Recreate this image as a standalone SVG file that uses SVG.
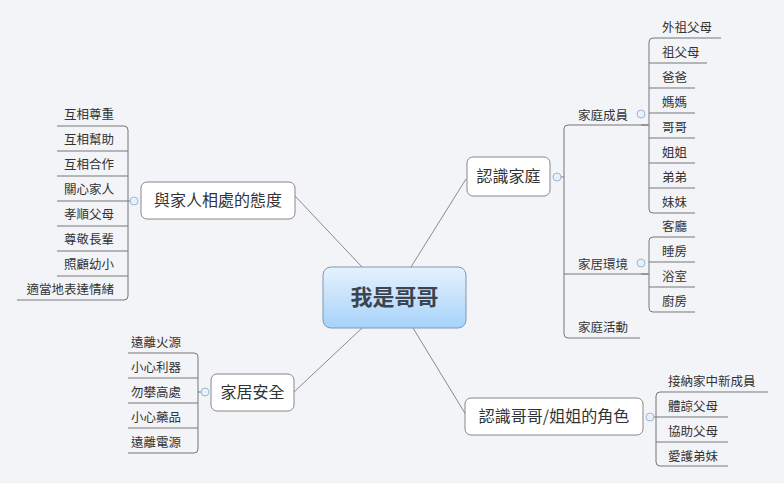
<svg xmlns="http://www.w3.org/2000/svg" width="784" height="483" viewBox="0 0 784 483">
<defs>
<linearGradient id="cg" x1="0" y1="0" x2="0" y2="1"><stop offset="0" stop-color="#e6f2fd"/><stop offset="1" stop-color="#a6d2fa"/></linearGradient>
<style>
text{font-family:"Noto Sans CJK TC","Noto Sans CJK SC",sans-serif;fill:#333}
.l{font-size:12.5px}
.m{font-size:16px}
.c{font-size:22px;font-weight:bold;fill:#3a4550}
.ln{fill:none;stroke:#8a8a8a;stroke-width:1}
.br{fill:none;stroke:#777;stroke-width:1}
.box{fill:#fff;stroke:#888;stroke-width:1}
.dot{fill:#e8f0fa;stroke:#9bb8d8;stroke-width:1}
</style>
</defs>
<rect width="784" height="483" fill="#f3f4f8"/>
<g id="connectors">
<path class="ln" d="M411 267L466 179M362 267L295 196M362 328L294 392M413 328L466 415"/>
<path class="br" d="M557 177H564M564 129Q564 125 568 125H648M564 129V334Q564 338 568 338H640M564 274H648"/>
<path class="br" d="M641 125H649M649 42Q649 38 653 38H721M649 42V209Q649 213 653 213H695M649 63H707M649 88H695M649 113H695M649 138H695M649 163H695M649 188H695"/>
<path class="br" d="M641 274H649M649 241Q649 237 653 237H695M649 241V308Q649 312 653 312H695M649 262H695M649 287H695"/>
<path class="br" d="M134 201H128M128 130Q128 126 124 126H57M128 130V296Q128 300 124 300H17M128 151H57M128 176H57M128 201H57M128 226H57M128 251H57M128 276H57"/>
<path class="br" d="M205 392H198M198 357Q198 353 194 353H128M198 357V449Q198 453 194 453H128M198 378H128M198 403H128M198 428H128"/>
<path class="br" d="M650 417H656M656 396Q656 392 660 392H768M656 396V462Q656 466 660 466H728M656 417H728M656 442H728"/>
</g>
<g id="center"><rect x="323" y="267" width="143" height="61" rx="8" fill="url(#cg)" stroke="#7f98b0"/><text class="c" x="394.5" y="305" text-anchor="middle">我是哥哥</text></g>
<g id="n1"><rect class="box" x="467" y="157" width="83" height="39" rx="6"/><text class="m" x="508.5" y="182" text-anchor="middle">認識家庭</text><circle class="dot" cx="557" cy="177" r="4"/></g>
<g id="n2"><rect class="box" x="141" y="182" width="154" height="37" rx="6"/><text class="m" x="218" y="206" text-anchor="middle">與家人相處的態度</text><circle class="dot" cx="134" cy="201" r="4"/></g>
<g id="n3"><rect class="box" x="211" y="374" width="83" height="37" rx="6"/><text class="m" x="252.5" y="398" text-anchor="middle">家居安全</text><circle class="dot" cx="205" cy="392" r="4"/></g>
<g id="n4"><rect class="box" x="465" y="398" width="178" height="37" rx="6"/><text class="m" x="554" y="422" text-anchor="middle">認識哥哥/姐姐的角色</text><circle class="dot" cx="650" cy="417" r="4"/></g>
<g id="family">
<text class="l" x="578" y="120">家庭成員</text><circle class="dot" cx="641" cy="114" r="4"/>
<text class="l" x="578" y="269">家居環境</text><circle class="dot" cx="641" cy="263" r="4"/>
<text class="l" x="578" y="332">家庭活動</text>
<text class="l" x="662" y="32">外祖父母</text><text class="l" x="662" y="57">祖父母</text><text class="l" x="662" y="82">爸爸</text><text class="l" x="662" y="107">媽媽</text><text class="l" x="662" y="132">哥哥</text><text class="l" x="662" y="157">姐姐</text><text class="l" x="662" y="182">弟弟</text><text class="l" x="662" y="207">妹妹</text>
<text class="l" x="662" y="231">客廳</text><text class="l" x="662" y="256">睡房</text><text class="l" x="662" y="281">浴室</text><text class="l" x="662" y="306">廚房</text>
</g>
<g id="attitude">
<text class="l" x="114" y="119" text-anchor="end">互相尊重</text><text class="l" x="114" y="144" text-anchor="end">互相幫助</text><text class="l" x="114" y="169" text-anchor="end">互相合作</text><text class="l" x="114" y="194" text-anchor="end">關心家人</text><text class="l" x="114" y="219" text-anchor="end">孝順父母</text><text class="l" x="114" y="244" text-anchor="end">尊敬長輩</text><text class="l" x="114" y="269" text-anchor="end">照顧幼小</text><text class="l" x="114" y="294" text-anchor="end">適當地表達情緒</text>
</g>
<g id="safety">
<text class="l" x="131" y="347">遠離火源</text><text class="l" x="131" y="372">小心利器</text><text class="l" x="131" y="397">勿攀高處</text><text class="l" x="131" y="422">小心藥品</text><text class="l" x="131" y="447">遠離電源</text>
</g>
<g id="role">
<text class="l" x="668" y="386">接納家中新成員</text><text class="l" x="668" y="411">體諒父母</text><text class="l" x="668" y="436">協助父母</text><text class="l" x="668" y="461">愛護弟妹</text>
</g>
</svg>
